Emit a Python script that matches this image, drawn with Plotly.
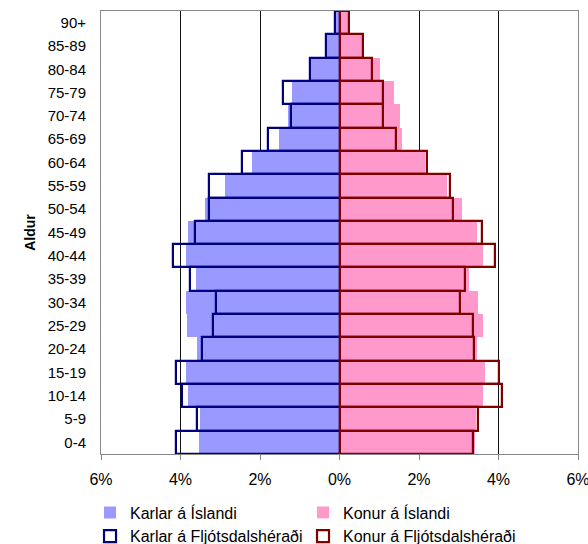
import plotly.graph_objects as go

age_groups = ["0-4", "5-9", "10-14", "15-19", "20-24", "25-29", "30-34", "35-39",
              "40-44", "45-49", "50-54", "55-59", "60-64", "65-69", "70-74", "75-79",
              "80-84", "85-89", "90+"]

# percent of population, bottom (0-4) to top (90+)
karlar_island = [3.54, 3.52, 3.80, 3.85, 3.59, 3.84, 3.87, 3.61, 3.85, 3.82,
                 3.39, 2.87, 2.19, 1.51, 1.29, 1.19, 0.72, 0.33, 0.10]
konur_island = [3.41, 3.44, 3.62, 3.65, 3.46, 3.62, 3.49, 3.26, 3.62, 3.45,
                3.09, 2.71, 2.16, 1.58, 1.51, 1.38, 1.01, 0.58, 0.27]
karlar_fljot = [4.11, 3.59, 3.97, 4.11, 3.45, 3.19, 3.11, 3.77, 4.20, 3.64,
                3.29, 3.29, 2.46, 1.80, 1.22, 1.43, 0.73, 0.34, 0.12]
konur_fljot = [3.35, 3.49, 4.08, 4.01, 3.38, 3.35, 3.02, 3.16, 3.92, 3.59,
               2.85, 2.78, 2.20, 1.43, 1.09, 1.09, 0.81, 0.59, 0.23]

x_tickvals = [-6, -4, -2, 0, 2, 4, 6]
x_ticktext = ["6%", "4%", "2%", "0%", "2%", "4%", "6%"]

fig = go.Figure()
fig.add_trace(go.Bar(y=age_groups, x=[-v for v in karlar_island], orientation="h",
                     name="Karlar á Íslandi", marker=dict(color="#9999FF", line=dict(width=0))))
fig.add_trace(go.Bar(y=age_groups, x=konur_island, orientation="h",
                     name="Konur á Íslandi", marker=dict(color="#FF99CC", line=dict(width=0))))
fig.add_trace(go.Bar(y=age_groups, x=[-v for v in karlar_fljot], orientation="h",
                     name="Karlar á Fljótsdalshéraði",
                     marker=dict(color="rgba(0,0,0,0)", line=dict(color="#000080", width=2.2))))
fig.add_trace(go.Bar(y=age_groups, x=konur_fljot, orientation="h",
                     name="Konur á Fljótsdalshéraði",
                     marker=dict(color="rgba(0,0,0,0)", line=dict(color="#800000", width=2.2))))

fig.update_layout(
    width=588, height=544,
    margin=dict(l=101, r=10, t=11, b=90, autoexpand=False),
    barmode="overlay", bargap=0,
    plot_bgcolor="white", paper_bgcolor="white",
    font=dict(family="Liberation Sans, Arial, sans-serif", color="black", size=15),
    showlegend=True,
    legend=dict(orientation="h", xref="container", x=0.1531, xanchor="left",
                yref="container", y=0.0892, yanchor="top",
                font=dict(size=16), entrywidth=168, entrywidthmode="pixels",
                traceorder="normal", itemwidth=30),
    xaxis=dict(range=[-6, 6], tickvals=x_tickvals, ticktext=x_ticktext,
               showgrid=True, gridcolor="#111111", gridwidth=1, zeroline=False,
               showline=True, mirror=True, linecolor="#888888", linewidth=1,
               ticks="outside", ticklen=5, tickcolor="#888888",
               tickfont=dict(size=16), ticklabelstandoff=6, automargin=False,
               ticklabeloverflow="allow"),
    yaxis=dict(type="category", categoryorder="array", categoryarray=age_groups,
               showgrid=False, zeroline=False, showline=True, mirror=True,
               linecolor="#888888", linewidth=1, ticks="", ticklabelstandoff=11,
               tickfont=dict(size=15), automargin=False,
               title=dict(text="<b>Aldur</b>", font=dict(size=14), standoff=8)),
)

fig.write_html("out.html",
               config={"displayModeBar": False},
               post_script="document.documentElement.style.margin='0';"
                           "document.body.style.margin='0';"
                           "document.body.style.overflow='hidden';")
